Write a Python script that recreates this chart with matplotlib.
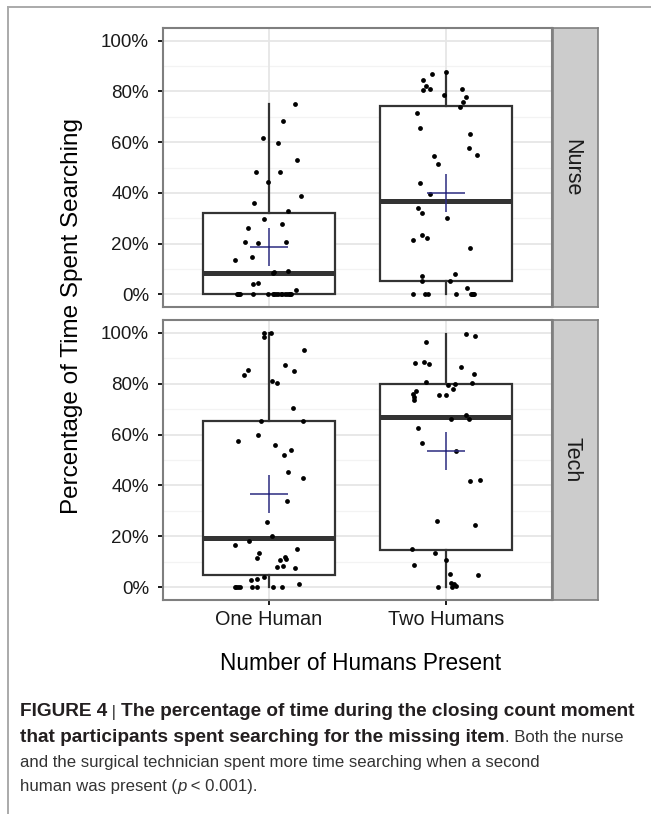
import numpy as np
import matplotlib
matplotlib.use('Agg')
import matplotlib.pyplot as plt
from matplotlib.lines import Line2D

plt.rcParams['font.family'] = ['Liberation Sans', 'DejaVu Sans']

# categories / labels
groups = ['One Human', 'Two Humans']
roles = ['Nurse', 'Tech']
y_ticks = [0, 20, 40, 60, 80, 100]
y_tick_labels = ['0%', '20%', '40%', '60%', '80%', '100%']

# values (percent of time spent searching)
nurse_one = [74.9, 68.5, 61.8, 59.7, 52.9, 48.4, 48.3, 44.2, 38.7, 36.2, 32.7, 29.5,
             26.2, 27.8, 20.5, 20.2, 20.7, 13.5, 14.7, 8.9, 8.3, 9.2, 4.2, 4.3, 1.6,
             0, 0, 0, 0, 0, 0, 0, 0, 0, 0, 0, 0, 0, 0, 0, 0, 0]
nurse_two = [87.8, 86.7, 84.6, 82.0, 80.7, 81.1, 78.6, 80.8, 77.7, 75.7, 74.0, 71.4,
             65.5, 63.4, 57.7, 55.1, 54.5, 51.3, 43.8, 39.5, 34.1, 32.0, 30.2, 23.5,
             21.4, 22.2, 18.2, 8.0, 7.3, 5.2, 5.1, 2.6, 0, 0, 0, 0, 0, 0, 0, 0]
tech_one = [100, 100, 98.4, 93.2, 85.5, 83.3, 87.2, 85.0, 81.2, 80.4, 70.4, 65.5,
            65.3, 57.5, 59.9, 55.8, 52.0, 54.1, 45.4, 42.8, 33.9, 25.5, 20.1, 18.3,
            16.8, 14.9, 13.6, 11.6, 10.8, 11.8, 11.2, 7.9, 8.2, 7.6, 3.9, 2.8, 3.3,
            1.1, 0, 0, 0, 0, 0, 0, 0, 0]
tech_two = [99.6, 98.9, 96.3, 88.2, 88.6, 87.8, 86.4, 83.6, 80.7, 79.6, 80.0, 78.0,
            80.1, 77.0, 75.9, 74.7, 73.4, 75.4, 75.4, 67.5, 66.2, 66.1, 62.6, 56.6,
            53.4, 41.8, 42.2, 26.2, 24.3, 15.0, 13.6, 10.7, 8.8, 5.0, 5.3, 1.7, 1.1,
            0.4, 0, 0]

# horizontal jitter of each point (category units), as seen in the picture
nurse_one_jit = [0.145, 0.081, -0.032, 0.051, 0.156, -0.073, 0.064, -0.004, 0.179, -0.087,
                 0.109, -0.030, -0.122, 0.072, -0.134, -0.062, 0.096, -0.194, -0.098, 0.026,
                 0.021, 0.107, -0.089, -0.062, 0.153,
                 -0.181, -0.166, -0.089, -0.006, 0.023, 0.041, 0.066, 0.089, 0.113, 0.124,
                 -0.175, -0.170, 0.030, 0.050, 0.075, 0.100, 0.118]
nurse_two_jit = [-0.002, -0.079, -0.132, -0.111, -0.130, -0.090, -0.009, 0.090, 0.113, 0.094,
                 0.079, -0.164, -0.145, 0.136, 0.128, 0.177, -0.070, -0.047, -0.145, -0.090,
                 -0.156, -0.134, 0.006, -0.136, -0.188, -0.105, 0.137, 0.051, -0.136, -0.134,
                 0.021, 0.122, -0.188, -0.117, -0.102, 0.056, 0.141, 0.151, 0.160, 0.145]
tech_one_jit = [-0.026, 0.009, -0.026, 0.196, -0.119, -0.141, 0.089, 0.143, 0.017, 0.043,
                0.134, -0.047, 0.190, -0.177, -0.060, 0.034, 0.085, 0.126, 0.109, 0.192,
                0.102, -0.011, 0.015, -0.113, -0.190, 0.156, -0.056, -0.070, 0.062, 0.089,
                0.098, 0.043, 0.081, 0.149, -0.030, -0.102, -0.066, 0.171,
                -0.194, -0.177, -0.162, -0.098, -0.066, 0.023, 0.073, -0.185]
tech_two_jit = [0.113, 0.166, -0.115, -0.175, -0.122, -0.096, 0.085, 0.158, -0.115, 0.011,
                0.053, 0.041, 0.147, -0.171, -0.188, -0.183, -0.179, -0.038, 0.0, 0.111,
                0.128, 0.028, -0.156, -0.136, 0.055, 0.137, 0.190, -0.053, 0.162, -0.190,
                -0.064, -0.002, -0.179, 0.183, 0.024, 0.028, 0.047, 0.056, -0.043, 0.035]

panels = [
    ('Nurse', [nurse_one, nurse_two], [nurse_one_jit, nurse_two_jit]),
    ('Tech', [tech_one, tech_two], [tech_one_jit, tech_two_jit]),
]

W, H = 651, 814
fig = plt.figure(figsize=(W / 100, H / 100), dpi=100)

box_col = '#333333'
border_col = '#7f7f7f'
mean_col = '#2b2b80'


def px_rect(x0, y0, x1, y1):
    return [x0 / W, 1 - y1 / H, (x1 - x0) / W, (y1 - y0) / H]


panel_boxes = [(163, 28, 552, 307), (163, 320, 552, 600)]
positions = np.arange(1, len(groups) + 1)

for i, (role, vals, jits) in enumerate(panels):
    x0, y0, x1, y1 = panel_boxes[i]
    ax = fig.add_axes(px_rect(x0, y0, x1, y1))
    ax.set_xlim(0.4, 2.6)
    ax.set_ylim(-5, 105)

    # grid
    for v in [10, 30, 50, 70, 90]:
        ax.axhline(v, color='#f3f3f3', lw=0.9, zorder=0)
    for v in y_ticks:
        ax.axhline(v, color='#e6e6e6', lw=1.3, zorder=0)
    for p in positions:
        ax.axvline(p, color='#e6e6e6', lw=1.3, zorder=0)

    ax.boxplot(vals, positions=positions, widths=0.75, showfliers=False,
               showcaps=False, patch_artist=True,
               boxprops=dict(facecolor='white', edgecolor=box_col, linewidth=1.6),
               whiskerprops=dict(color=box_col, linewidth=1.6),
               medianprops=dict(color=box_col, linewidth=3.6, solid_capstyle='butt'),
               zorder=2)

    for p, v, j in zip(positions, vals, jits):
        ax.scatter(p + np.array(j), v, s=12, color='black', linewidths=0, zorder=3)
        ax.plot(p, np.mean(v), marker='+', ms=27, mew=1.1, color=mean_col, zorder=4)

    ax.set_yticks(y_ticks)
    ax.set_yticklabels(y_tick_labels, fontsize=13.5, color='#1a1a1a')
    ax.set_xticks(positions)
    if i == 1:
        ax.set_xticklabels(groups, fontsize=14.3, color='#1a1a1a')
    else:
        ax.set_xticklabels([])
    ax.tick_params(axis='y', length=3.5, width=1.4, color='#1a1a1a', pad=6.5)
    ax.tick_params(axis='x', length=3.5, width=1.4, color='#1a1a1a', pad=3.5)
    if i == 0:
        ax.tick_params(axis='x', length=0)
    for s in ax.spines.values():
        s.set_color(border_col)
        s.set_linewidth(1.5)

    # facet strip
    sax = fig.add_axes(px_rect(553, y0, 598, y1))
    sax.set_facecolor('#cccccc')
    sax.set_xticks([])
    sax.set_yticks([])
    for s in sax.spines.values():
        s.set_color(border_col)
        s.set_linewidth(1.2)
    sax.text(0.42, 0.5, role, rotation=-90, ha='center', va='center',
             fontsize=15.5, color='#1a1a1a', transform=sax.transAxes)

fig.text(72 / W, 1 - 316 / H, 'Percentage of Time Spent Searching', rotation=90,
         ha='center', va='center', fontsize=17.5, color='black')
fig.text(360 / W, 1 - 663 / H, 'Number of Humans Present', ha='center', va='center',
         fontsize=16.3, color='black')

# frame lines around the figure
fig.add_artist(Line2D([8 / W, 1], [1 - 6.5 / H, 1 - 6.5 / H], color='#aaaaaa', lw=1.4,
                      transform=fig.transFigure))
fig.add_artist(Line2D([8 / W, 8 / W], [0, 1 - 6.5 / H], color='#aaaaaa', lw=1.4,
                      transform=fig.transFigure))

# caption with mixed bold / regular runs
renderer = fig.canvas.get_renderer()


def put_runs(x_px, y_px, runs):
    x = x_px / W
    for txt, kw in runs:
        t = fig.text(x, 1 - y_px / H, txt, va='center', ha='left', **kw)
        x += t.get_window_extent(renderer=renderer).width / fig.bbox.width


bold = dict(fontweight='bold', color='#231f20', fontsize=13.7)
reg = dict(color='#333333', fontsize=12.1)
put_runs(20, 712, [('FIGURE 4', bold), (' | ', reg),
                   ('The percentage of time during the closing count moment', bold)])
put_runs(20, 737, [('that participants spent searching for the missing item', bold),
                   ('. Both the nurse', reg)])
put_runs(20, 762, [('and the surgical technician spent more time searching when a second', reg)])
put_runs(20, 787, [('human was present (', reg),
                   ('p', dict(color='#333333', fontsize=12.1, style='italic')),
                   (' < 0.001).', reg)])

fig.savefig('out.png', dpi=100)
